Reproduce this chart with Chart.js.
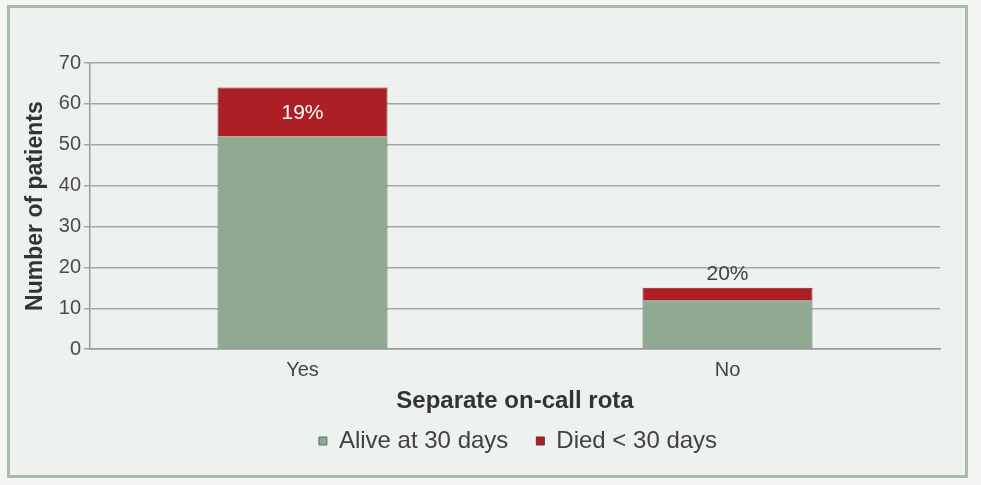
<!DOCTYPE html>
<html lang="en">
<head>
    <meta charset="UTF-8">
    <title>Separate on-call rota</title>
    <script src="https://cdn.jsdelivr.net/npm/chart.js@4.4.1/dist/chart.umd.min.js"></script>
    <style>
        body { margin: 0; background: #f4f6f4; }
        #frame {
            position: absolute; left: 7px; top: 5px;
            width: 955px; height: 467px;
            border: 3px solid #a6bcad;
            background: #eef2ee;
        }
    </style>
</head>
<body>
    <div id="frame">
        <canvas id="rotaChart" width="955" height="467"></canvas>
    </div>

    <script>
        // data
        const categories = ['Yes', 'No'];
        const aliveValues = [52, 12];
        const diedValues = [12, 3];
        const diedPercent = ['19%', '20%'];
        const yTicks = [0, 10, 20, 30, 40, 50, 60, 70];

        const greenFill = '#8fa993';
        const redFill = '#ae1f25';
        const font = '"Liberation Sans", Arial, sans-serif';

        // draws the percentage labels on the died segments
        const percentLabels = {
            id: 'percentLabels',
            afterDatasetsDraw(chart) {
                const ctx = chart.ctx;
                const meta = chart.getDatasetMeta(1);
                ctx.save();
                ctx.font = '21px ' + font;
                ctx.textAlign = 'center';
                meta.data.forEach((bar, i) => {
                    const h = bar.base - bar.y;
                    if (h > 30) {
                        ctx.fillStyle = '#ffffff';
                        ctx.textBaseline = 'middle';
                        ctx.fillText(diedPercent[i], bar.x, (bar.y + bar.base) / 2 + 1);
                    } else {
                        ctx.fillStyle = '#404040';
                        ctx.textBaseline = 'bottom';
                        ctx.fillText(diedPercent[i], bar.x, bar.y - 3);
                    }
                });
                ctx.restore();
            }
        };

        // the legend in the original sits a bit right of centre
        const legendShift = {
            id: 'legendShift',
            afterLayout(chart) {
                chart.legend.left += 38;
                chart.legend.right += 38;
            }
        };

        const ctx = document.getElementById('rotaChart').getContext('2d');
        new Chart(ctx, {
            type: 'bar',
            data: {
                labels: categories,
                datasets: [{
                    label: 'Alive at 30 days',
                    data: aliveValues,
                    backgroundColor: greenFill,
                    borderColor: '#5f6e62',
                    borderWidth: 1,
                    categoryPercentage: 0.8,
                    barPercentage: 0.5
                }, {
                    label: 'Died < 30 days',
                    data: diedValues,
                    backgroundColor: redFill,
                    borderColor: '#6e2a2a',
                    borderWidth: 1,
                    categoryPercentage: 0.8,
                    barPercentage: 0.5
                }]
            },
            options: {
                responsive: false,
                animation: false,
                layout: { padding: { left: 10, right: 25, top: 55, bottom: 12 } },
                plugins: {
                    tooltip: { enabled: false },
                    legend: {
                        position: 'bottom',
                        labels: {
                            font: { family: font, size: 24 },
                            color: '#404040',
                            boxWidth: 8,
                            boxHeight: 8,
                            padding: 28
                        }
                    }
                },
                scales: {
                    x: {
                        stacked: true,
                        grid: { display: false },
                        border: { display: true, color: '#9a9a9a', width: 1.5 },
                        ticks: {
                            font: { family: font, size: 20 },
                            color: '#444',
                            padding: 1
                        },
                        title: {
                            display: true,
                            text: 'Separate on-call rota',
                            font: { family: font, size: 24, weight: 'bold' },
                            color: '#333',
                            padding: { top: 4, bottom: -15 }
                        }
                    },
                    y: {
                        stacked: true,
                        min: 0,
                        max: 70,
                        afterBuildTicks(scale) {
                            scale.ticks = yTicks.map(v => ({ value: v }));
                        },
                        afterFit(scale) { scale.width = 70; },
                        grid: { color: '#a6a6a6', lineWidth: 1.5, tickLength: 6 },
                        border: { display: true, color: '#9a9a9a', width: 1.5 },
                        ticks: {
                            font: { family: font, size: 20 },
                            color: '#4a4a4a',
                            padding: 3
                        },
                        title: {
                            display: true,
                            text: 'Number of patients',
                            font: { family: font, size: 23, weight: 'bold' },
                            color: '#333',
                            padding: { top: 2, bottom: 0 }
                        }
                    }
                }
            },
            plugins: [percentLabels, legendShift]
        });
    </script>
</body>
</html>
